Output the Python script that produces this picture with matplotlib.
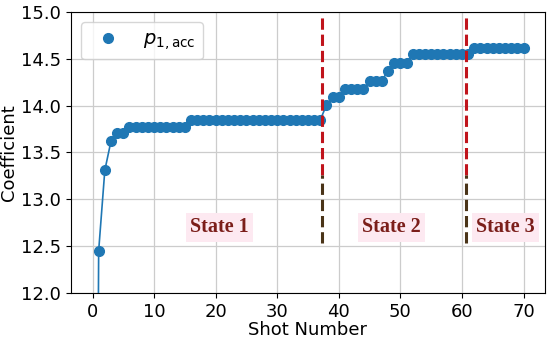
import matplotlib
matplotlib.use("Agg")
import matplotlib.pyplot as plt
import numpy as np

# shot numbers and accumulated coefficient (shot 0 sits far below the view)
shots = list(range(0, 71))
coef = ([0.0, 12.45, 13.31, 13.62, 13.705, 13.705]
        + [13.777] * 10
        + [13.848] * 22
        + [14.007, 14.096, 14.096]
        + [14.176] * 4
        + [14.267] * 3
        + [14.373]
        + [14.452] * 3
        + [14.548] * 10
        + [14.619] * 9)

# state change points and labels
change_x = [37.2, 60.7]
state_labels = ["State 1", "State 2", "State 3"]
state_x = [20.6, 48.5, 67.1]
state_y = 12.70

fig = plt.figure(figsize=(5.5, 3.4), dpi=100)
ax = fig.add_axes([0.129, 0.138, 0.862, 0.827])

ax.plot(shots, coef, color="C0", lw=1.2, zorder=3)
ax.plot(shots, coef, "o", color="C0", ms=7, lw=0, zorder=4,
        label=r"$p_{1,\mathrm{acc}}$")

for cx in change_x:
    ax.plot([cx, cx], [13.26, 14.95], ls="--", color="#c0141c", lw=2.2, zorder=5)
    ax.plot([cx, cx], [12.53, 13.26], ls="--", color="#4a3418", lw=2.2, zorder=5)

for lab, sx in zip(state_labels, state_x):
    ax.text(sx, state_y, lab, ha="center", va="center", fontsize=14.5,
            family="Liberation Serif", fontweight="bold", color="#7b1e1a",
            bbox=dict(facecolor="#fde9f1", edgecolor="none", pad=3), zorder=6)

ax.set_ylim(12.0, 15.0)
ax.set_yticks(np.arange(12.0, 15.01, 0.5))
ax.set_xticks(range(0, 71, 10))
ax.tick_params(labelsize=13)
ax.grid(True, color="#cccccc", lw=0.9)
ax.set_axisbelow(True)
ax.set_xlabel("Shot Number", fontsize=13, labelpad=0)
ax.set_ylabel("Coefficient", fontsize=13, labelpad=2)
ax.legend(loc="upper left", fontsize=14)

fig.savefig("out.png", dpi=100)
